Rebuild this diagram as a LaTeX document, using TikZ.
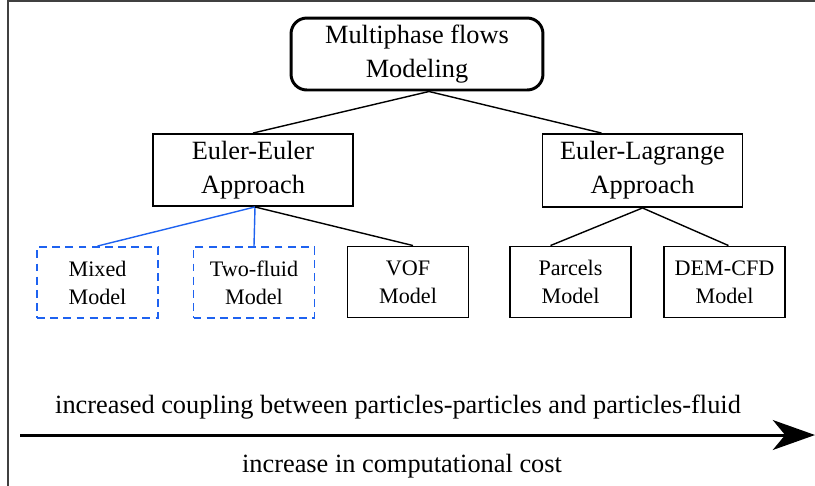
\documentclass[tikz,border=0pt]{standalone}
\usepackage{fontspec}
\setmainfont{Liberation Serif}
\usetikzlibrary{calc,arrows.meta}

\definecolor{modelblue}{RGB}{30,98,240}

\begin{document}
\begin{tikzpicture}[x=0.02cm,y=-0.02cm,
    bigbox/.style={draw,line width=1.1pt,align=center,inner sep=0pt,
      minimum width=4cm,minimum height=1.44cm,
      font=\fontsize{15}{19.5}\selectfont},
    smallbox/.style={draw,line width=1.1pt,align=center,inner sep=0pt,
      minimum width=2.42cm,minimum height=1.42cm,
      font=\fontsize{12.6}{16}\selectfont},
    bluebox/.style={smallbox,modelblue,dash pattern=on 4.5pt off 3pt,text=black},
    link/.style={line width=0.8pt},
    bluelink/.style={link,modelblue}]
  \useasboundingbox (0,0) rectangle (815,485);
  \draw[line width=0.9pt,black!75] (8,490) -- (8,1) -- (820,1);

  \node[bigbox,rounded corners=9pt,line width=1.7pt,minimum width=5.04cm]
    (top) at (417,54) {Multiphase flows\\Modeling};
  \node[bigbox] (ee) at (253,170) {Euler-Euler\\Approach};
  \node[bigbox,minimum height=1.46cm] (el) at (642.5,170.5) {Euler-Lagrange\\Approach};

  \node[bluebox] (mixed) at (97.5,282.5) {Mixed\\Model};
  \node[bluebox] (twofluid) at (254,282.5) {Two-fluid\\Model};
  \node[smallbox] (vof) at (408,282) {VOF\\Model};
  \node[smallbox] (parcels) at (570.5,282) {Parcels\\Model};
  \node[smallbox] (demcfd) at (724.5,282) {DEM-CFD\\Model};

  \draw[link] ($ (top.south) + (12,0) $) -- (ee.north);
  \draw[link] ($ (top.south) + (12,0) $) -- ($ (el.north) + (-41,0) $);
  \draw[bluelink] ($ (ee.south) + (2,0) $) -- (mixed.north);
  \draw[bluelink] ($ (ee.south) + (2,0) $) -- (twofluid.north);
  \draw[link] ($ (ee.south) + (2,0) $) -- ($ (vof.north) + (5,0) $);
  \draw[link] (el.south) -- ($ (parcels.north) + (-20,0) $);
  \draw[link] (el.south) -- ($ (demcfd.north) + (4,0) $);

  \coordinate (start) at (20,435);
  \coordinate (end) at (815,435);
  \draw[line width=1.7pt,-{Stealth[length=24pt,width=17pt,inset=7pt]}] (start) -- (end);

  \node[anchor=base,inner sep=0pt,font=\fontsize{15}{18}\selectfont] (coupling) at (398,413)
    {increased coupling between particles-particles and particles-fluid};
  \node[anchor=base,inner sep=0pt,font=\fontsize{15}{18}\selectfont] (cost) at (402,472)
    {increase in computational cost};
\end{tikzpicture}
\end{document}
